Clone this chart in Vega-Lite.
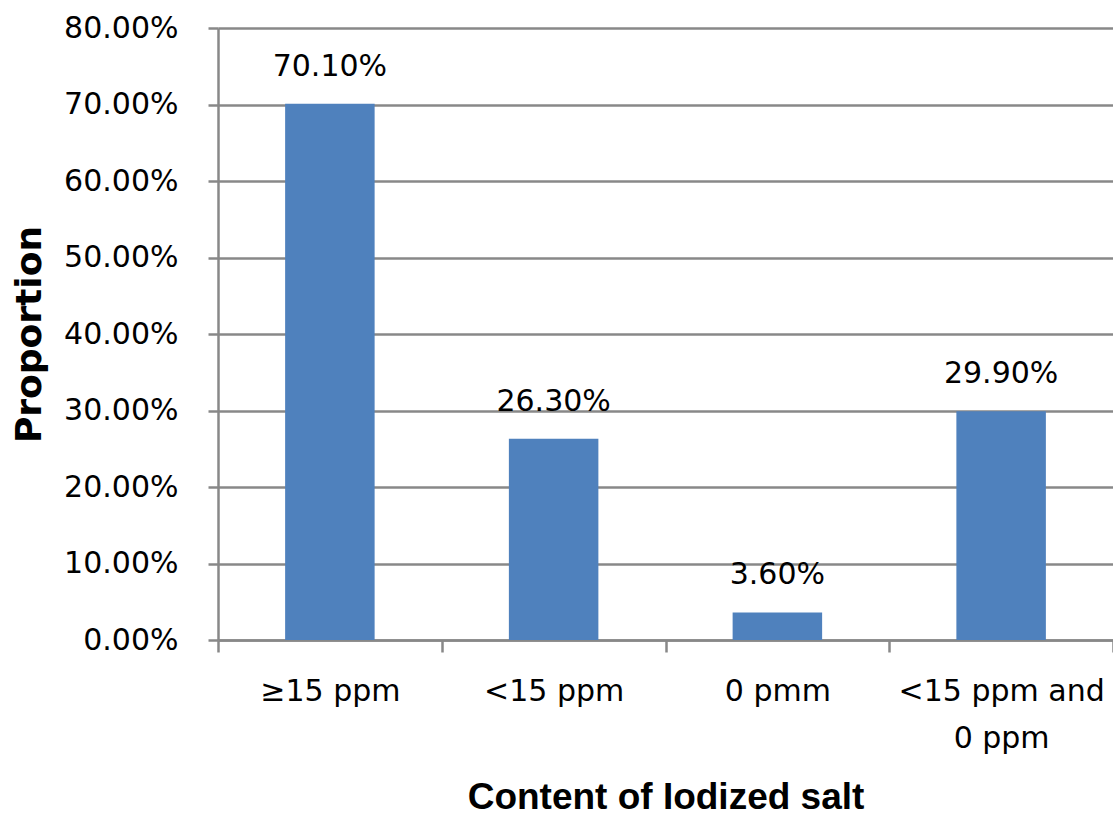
{
  "$schema": "https://vega.github.io/schema/vega-lite/v6.json",
  "autosize": {"type": "none"},
  "padding": {"left": 218, "top": 28, "right": 0, "bottom": 176},
  "width": 895,
  "height": 612,
  "background": "white",
  "config": {"view": {"stroke": null}},
  "data": {
    "values": [
      {"category": "≥15 ppm", "value": 0.701},
      {"category": "<15 ppm", "value": 0.263},
      {"category": "0 pmm", "value": 0.036},
      {"category": "<15 ppm and 0 ppm", "value": 0.299}
    ]
  },
  "encoding": {
    "x": {
      "field": "category",
      "type": "nominal",
      "sort": null,
      "scale": {"paddingInner": 0, "paddingOuter": 0},
      "axis": {
        "title": "Content of Iodized salt",
        "titleFont": "Liberation Sans",
        "titleFontWeight": "bold",
        "titleFontSize": 37,
        "titleColor": "#000000",
        "titlePadding": 26,
        "labelAngle": 0,
        "labelFont": "DejaVu Sans",
        "labelFontSize": 30,
        "labelColor": "#000000",
        "labelPadding": 24,
        "labelLimit": 0,
        "labelLineHeight": 47,
        "labelExpr": "datum.label == '<15 ppm and 0 ppm' ? ['<15 ppm and', '0 ppm'] : datum.label",
        "tickBand": "extent",
        "tickSize": 12,
        "tickWidth": 2.5,
        "tickColor": "#888888",
        "domainColor": "#888888",
        "domainWidth": 2.5,
        "grid": false
      }
    }
  },
  "layer": [
    {
      "mark": {"type": "bar", "color": "#4F81BD", "width": {"band": 0.4}},
      "encoding": {
        "y": {
          "field": "value",
          "type": "quantitative",
          "scale": {"domain": [0, 0.8], "nice": false},
          "axis": {
            "title": "Proportion",
            "titleFont": "DejaVu Sans",
            "titleFontWeight": "bold",
            "titleFontSize": 36,
            "titleColor": "#000000",
            "titlePadding": 15,
            "values": [0, 0.1, 0.2, 0.3, 0.4, 0.5, 0.6, 0.7, 0.8],
            "format": ".2%",
            "labelFont": "DejaVu Sans",
            "labelFontSize": 30,
            "labelColor": "#000000",
            "labelPadding": 30,
            "tickSize": 10,
            "tickWidth": 2.5,
            "tickColor": "#888888",
            "domainColor": "#888888",
            "domainWidth": 2.5,
            "grid": true,
            "gridColor": "#888888",
            "gridWidth": 2.5
          }
        }
      }
    },
    {
      "mark": {"type": "text", "font": "DejaVu Sans", "fontSize": 30, "color": "#000000", "baseline": "alphabetic", "dy": -28},
      "encoding": {
        "y": {"field": "value", "type": "quantitative"},
        "text": {"field": "value", "type": "quantitative", "format": ".2%"}
      }
    }
  ]
}
